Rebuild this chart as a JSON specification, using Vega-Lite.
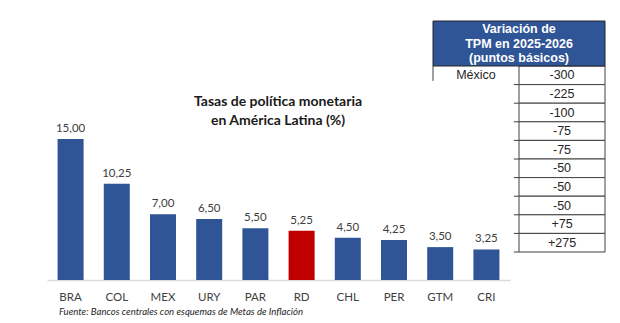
{
  "$schema": "https://vega.github.io/schema/vega-lite/v6.json",
  "width": 620,
  "height": 323,
  "autosize": {"type": "none"},
  "padding": 0,
  "background": "white",
  "config": {
    "view": {"stroke": null},
    "locale": {"number": {"decimal": ",", "thousands": ".", "grouping": [3], "currency": ["", " €"], "minus": "-"}}
  },
  "resolve": {"scale": {"x": "independent", "y": "independent"}},
  "layer": [
    {
      "data": {"values": [
        {"pais": "BRA", "tasa": 15.00},
        {"pais": "COL", "tasa": 10.25},
        {"pais": "MEX", "tasa": 7.00},
        {"pais": "URY", "tasa": 6.50},
        {"pais": "PAR", "tasa": 5.50},
        {"pais": "RD", "tasa": 5.25},
        {"pais": "CHL", "tasa": 4.50},
        {"pais": "PER", "tasa": 4.25},
        {"pais": "GTM", "tasa": 3.50},
        {"pais": "CRI", "tasa": 3.25}
      ]},
      "encoding": {
        "x": {
          "field": "pais", "type": "nominal", "sort": null,
          "scale": {"domain": ["BRA","COL","MEX","URY","PAR","RD","CHL","PER","GTM","CRI"], "range": [47, 510], "paddingInner": 0.437, "paddingOuter": 0.229},
          "axis": {"title": null, "offset": -43, "domainColor": "#D9D9D9", "domainWidth": 1.5, "ticks": false, "labelPadding": 11, "labelFont": "Lato", "labelFontSize": 11.5, "labelColor": "#404040", "labelAngle": 0}
        }
      },
      "layer": [
        {
          "mark": {"type": "bar"},
          "encoding": {
            "y": {"field": "tasa", "type": "quantitative", "scale": {"domain": [-4.574, 29.79], "nice": false, "zero": false}, "axis": null},
            "color": {"condition": {"test": "datum.pais === 'RD'", "value": "#C00000"}, "value": "#2F5597"}
          }
        },
        {
          "mark": {"type": "text", "baseline": "bottom", "dy": -5, "font": "Lato", "fontSize": 11.5, "color": "#404040"},
          "encoding": {
            "y": {"field": "tasa", "type": "quantitative"},
            "text": {"field": "tasa", "type": "quantitative", "format": ".2f"}
          }
        },
        {
          "data": {"values": [{"titulo": "Tasas de política monetaria\nen América Latina (%)"}]},
          "mark": {"type": "text", "baseline": "middle", "align": "center", "lineBreak": "\n", "lineHeight": 19, "font": "Lato", "fontWeight": "bold", "fontSize": 14, "color": "#1a1a1a"},
          "encoding": {
            "x": {"datum": "PAR", "type": "nominal", "bandPosition": 1.37},
            "y": {"datum": 18.94, "type": "quantitative"},
            "text": {"field": "titulo"}
          }
        },
        {
          "data": {"values": [{"fuente": "Fuente: Bancos centrales con esquemas de Metas de Inflación"}]},
          "mark": {"type": "text", "baseline": "middle", "align": "left", "font": "Lato", "fontStyle": "italic", "fontSize": 9.6, "color": "#262626"},
          "encoding": {
            "x": {"datum": "BRA", "type": "nominal", "bandPosition": 0.05},
            "y": {"datum": -3.4, "type": "quantitative"},
            "text": {"field": "fuente"}
          }
        }
      ]
    },
    {
      "data": {"values": [
        {"rank": 1, "pais": "México", "var": -300},
        {"rank": 2, "pais": "", "var": -225},
        {"rank": 3, "pais": "", "var": -100},
        {"rank": 4, "pais": "", "var": -75},
        {"rank": 5, "pais": "", "var": -75},
        {"rank": 6, "pais": "", "var": -50},
        {"rank": 7, "pais": "", "var": -50},
        {"rank": 8, "pais": "", "var": -50},
        {"rank": 9, "pais": "", "var": 75},
        {"rank": 10, "pais": "", "var": 275}
      ]},
      "encoding": {
        "y": {"field": "rank", "type": "ordinal", "scale": {"domain": [1,2,3,4,5,6,7,8,9,10], "range": [66, 252], "paddingInner": 0, "paddingOuter": 0}, "axis": null}
      },
      "layer": [
        {
          "mark": {"type": "rect", "fill": "white", "stroke": "#404040", "strokeWidth": 1},
          "encoding": {
            "x": {"datum": "var", "type": "nominal", "scale": {"domain": ["pais", "var"], "range": [433, 605], "paddingInner": 0, "paddingOuter": 0}, "axis": null}
          }
        },
        {
          "mark": {"type": "text", "baseline": "middle", "align": "center", "font": "Liberation Sans", "fontSize": 12.5, "color": "#262626"},
          "encoding": {
            "x": {"datum": "var", "type": "nominal"},
            "text": {"field": "var", "type": "quantitative", "format": "+d"}
          }
        },
        {
          "mark": {"type": "text", "baseline": "middle", "align": "center", "font": "Liberation Sans", "fontSize": 12.5, "color": "#262626"},
          "encoding": {
            "x": {"datum": "pais", "type": "nominal"},
            "text": {"field": "pais"}
          }
        },
        {
          "mark": {"type": "rule", "color": "#404040", "strokeWidth": 1},
          "encoding": {
            "x": {"datum": "pais", "type": "nominal", "bandPosition": 0.94},
            "x2": {"datum": "pais", "bandPosition": 1},
            "y": {"field": "rank", "type": "ordinal", "bandPosition": 1}
          }
        },
        {
          "transform": [{"filter": "datum.rank == 1"}],
          "mark": {"type": "rule", "color": "#404040", "strokeWidth": 1},
          "encoding": {
            "x": {"datum": "pais", "type": "nominal", "bandPosition": 0},
            "y": {"field": "rank", "type": "ordinal", "bandPosition": 0},
            "y2": {"field": "rank", "bandPosition": 0.8}
          }
        }
      ]
    },
    {
      "data": {"values": [{"encabezado": "Variación de\nTPM en 2025-2026\n(puntos básicos)"}]},
      "encoding": {
        "x": {"datum": "h", "type": "nominal", "scale": {"domain": ["h"], "range": [433, 605], "paddingInner": 0, "paddingOuter": 0}, "axis": null},
        "y": {"datum": "h", "type": "nominal", "scale": {"domain": ["h"], "range": [21, 66], "paddingInner": 0, "paddingOuter": 0}, "axis": null}
      },
      "layer": [
        {"mark": {"type": "rect", "fill": "#2F5597", "stroke": "#262626", "strokeWidth": 1}},
        {
          "mark": {"type": "text", "baseline": "middle", "align": "center", "lineBreak": "\n", "lineHeight": 14.5, "dy": -14.5, "font": "Liberation Sans", "fontWeight": "bold", "fontSize": 12.5, "color": "white"},
          "encoding": {"text": {"field": "encabezado"}}
        }
      ]
    }
  ]
}
